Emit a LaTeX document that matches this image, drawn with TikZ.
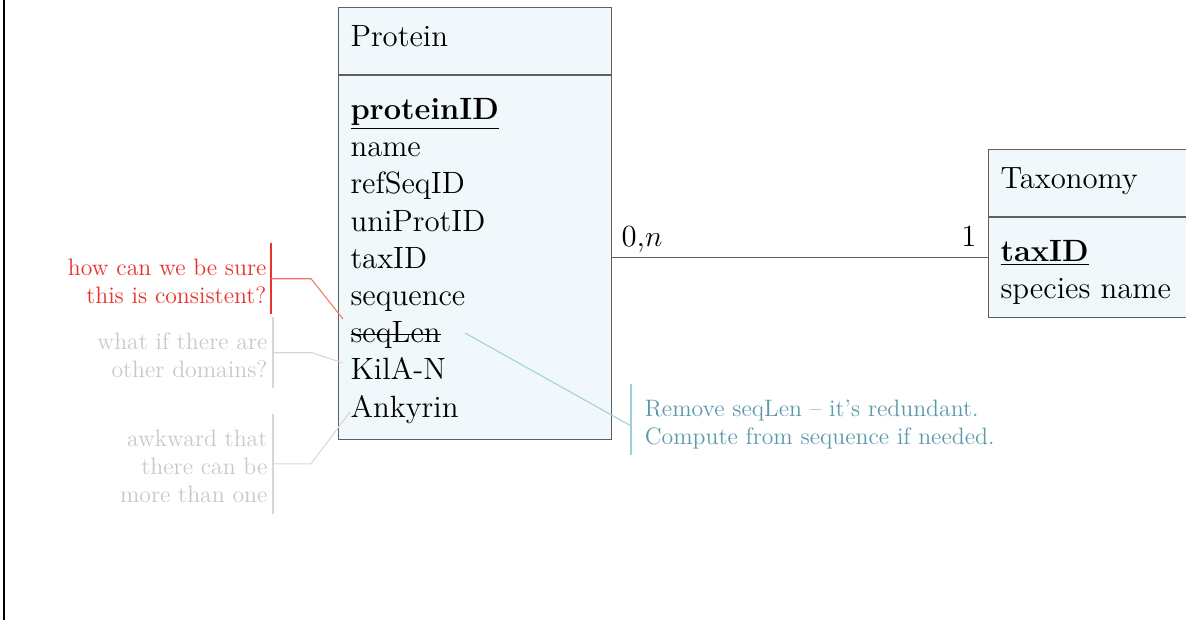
\documentclass[tikz,border=0pt]{standalone}
\usepackage{xcolor}
\usepackage{tikz}
\usetikzlibrary{positioning}
\definecolor{entityfill}{RGB}{241,248,252}
\definecolor{entityline}{RGB}{95,95,95}
\definecolor{alert}{RGB}{232,50,42}
\definecolor{alertline}{RGB}{240,118,98}
\definecolor{muted}{RGB}{200,200,200}
\definecolor{mutedline}{RGB}{214,214,214}
\definecolor{hint}{RGB}{92,154,170}
\definecolor{hintline}{RGB}{158,208,216}

\newsavebox\strkbox
\newcommand{\strk}[1]{\leavevmode\sbox\strkbox{#1}\rlap{\rule[0.6ex]{\wd\strkbox}{0.5pt}}\usebox\strkbox}
\newcommand{\pk}[1]{\underline{\textbf{#1}}}

\begin{document}
\begin{tikzpicture}[
    x=0.484pt, y=-0.484pt,
    node distance=0pt,
    entity/.style={draw=entityline, fill=entityfill, line width=0.5pt, font=\fontsize{14.9}{18}\selectfont, align=left, inner xsep=5.8pt, inner ysep=0pt, anchor=north west},
    head/.style={entity, text height=18.9pt, text depth=13.3pt},
    attrs/.style={entity, text height=21.5pt},
    note/.style={font=\fontsize{11.5}{13.6}\selectfont, inner ysep=0pt, text depth=5.3pt},
    link/.style={line width=0.5pt}
]
    \clip (0,0) rectangle (1186,620);
    \draw[line width=1.2pt] (4,0) -- (4,620);

    \node[head, text width=120.5pt] (prot-head) at (338,7) {Protein};
    \node[attrs, text width=120.5pt, text depth=154.9pt, below=of prot-head] (prot-attrs)
        {\pk{proteinID}\\ name\\ refSeqID\\ uniProtID\\ taxID\\ sequence\\ \strk{seqLen}\\ KilA-N\\ Ankyrin};

    \node[head, text width=110pt] (tax-head) at (988,149) {Taxonomy};
    \node[attrs, text width=110pt, text depth=27.1pt, below=of tax-head] (tax-attrs)
        {\pk{taxID}\\ species name};

    \draw[link, entityline] (prot-attrs.east) -- (prot-attrs.east -| tax-attrs.west)
        node[pos=0, anchor=base west, inner sep=0pt, xshift=4.4pt, yshift=5.3pt, text=black, font=\fontsize{14.9}{18}\selectfont] {0,$n$}
        node[pos=1, anchor=base east, inner sep=0pt, xshift=-5.3pt, yshift=5.3pt, text=black, font=\fontsize{14.9}{18}\selectfont] {1};

    \coordinate (seqlen-left) at (343,319);
    \coordinate (kilan-left) at (343,363);
    \coordinate (ankyrin-left) at (350,412);
    \coordinate (seqlen-right) at (465,333);

    \node[note, text=alert, align=right, anchor=north east, inner xsep=2pt, text height=28.9pt] (consist-note) at (271,243)
        {how can we be sure\\ this is consistent?};
    \draw[alert, link] (consist-note.north east) -- (consist-note.south east);
    \draw[alertline, link] (consist-note.east) -- ++(40,0) -- (seqlen-left);

    \node[note, text=muted, align=right, anchor=north east, inner xsep=2.5pt, text height=28.9pt] (domain-note) at (273,317)
        {what if there are\\ other domains?};
    \draw[mutedline, link] (domain-note.north east) -- (domain-note.south east);
    \draw[mutedline, link] (domain-note.east) -- ++(39,0) -- (kilan-left);

    \node[note, text=muted, align=right, anchor=north east, inner xsep=2.5pt, text height=42.5pt] (awkward-note) at (273,414)
        {awkward that\\ there can be\\ more than one};
    \draw[mutedline, link] (awkward-note.north east) -- (awkward-note.south east);
    \draw[mutedline, link] (awkward-note.east) -- ++(38,0) -- (ankyrin-left);

    \node[note, text=hint, align=left, anchor=north west, inner xsep=6.5pt, text height=28.9pt] (hint-note) at (631,384)
        {Remove seqLen -- it's redundant.\\ Compute from sequence if needed.};
    \draw[hintline, link] (hint-note.north west) -- (hint-note.south west);
    \draw[hintline, link] (seqlen-right) -- ([yshift=-3pt]hint-note.west);
\end{tikzpicture}
\end{document}
